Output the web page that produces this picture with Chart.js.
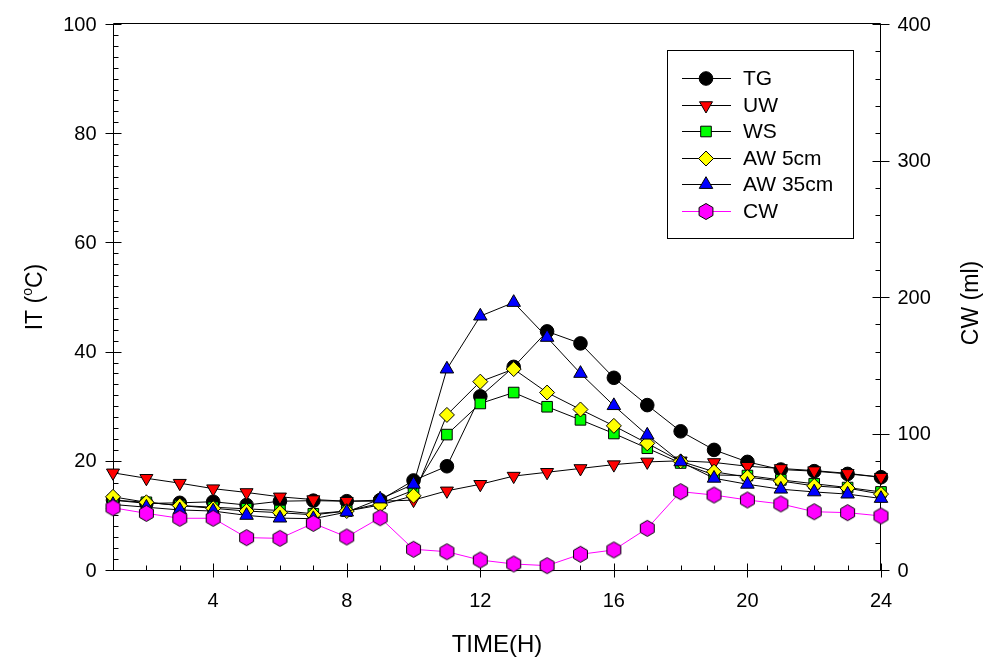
<!DOCTYPE html>
<html>
<head>
<meta charset="utf-8">
<script src="https://cdn.jsdelivr.net/npm/chart.js@4/dist/chart.umd.min.js"></script>
<style>
html,body{margin:0;padding:0;background:#fff;}
#wrap{width:989px;height:665px;position:relative;}
</style>
</head>
<body>
<div id="wrap"><canvas id="c" width="989" height="665"></canvas></div>
<script>
// ---------- data ----------
const hours = [1,2,3,4,5,6,7,8,9,10,11,12,13,14,15,16,17,18,19,20,21,22,23,24];
const xTickLabels = [4,8,12,16,20,24];
const leftTicks = [0,20,40,60,80,100];
const rightTicks = [0,100,200,300,400];

const TG   = [12.8,12.2,12.3,12.5,11.9,12.6,12.7,12.6,12.8,16.4,19.0,31.8,37.2,43.7,41.5,35.2,30.2,25.4,22.0,19.8,18.4,18.1,17.6,17.0];
const UW   = [17.8,16.8,15.9,14.9,14.2,13.4,12.9,12.6,12.6,12.8,14.5,15.7,17.2,17.9,18.6,19.3,19.8,20.0,19.7,19.0,18.6,18.2,17.7,17.0];
const WS   = [12.8,12.4,11.8,11.5,11.2,10.9,10.3,10.8,12.2,14.6,24.8,30.5,32.5,29.9,27.5,25.0,22.3,19.6,17.4,17.3,16.5,15.8,15.1,14.3];
const AW5  = [13.4,12.4,11.8,11.3,10.8,10.5,10.1,10.8,11.9,13.6,28.4,34.5,36.8,32.5,29.4,26.4,23.2,19.9,18.0,17.0,16.3,15.4,15.0,13.9];
const AW35 = [12.0,11.5,11.0,10.8,10.0,9.5,9.4,10.6,13.0,15.7,36.8,46.5,49.0,42.6,36.0,30.1,24.7,19.8,16.8,15.7,14.8,14.3,13.9,13.1];
const CW   = [45.6,41.5,37.9,37.9,23.7,23.2,34.2,24.2,38.3,15.2,13.4,7.3,4.4,3.2,11.5,14.7,30.5,57.4,54.9,51.3,48.4,42.7,42.0,39.6];

const seriesNames = ['TG','UW','WS','AW 5cm','AW 35cm','CW'];

// ---------- helpers ----------
const FONT = "'Liberation Sans', Arial, sans-serif";
function hexPath(g, x, y, r){
  g.beginPath();
  for(let i=0;i<6;i++){
    const a = Math.PI/180*(60*i-90);
    const px = x + r*Math.cos(a), py = y + r*Math.sin(a);
    if(i) g.lineTo(px,py); else g.moveTo(px,py);
  }
  g.closePath();
}
function hexCanvas(r){
  const s = 19;
  const c = document.createElement('canvas');
  c.width = s; c.height = s;
  const g = c.getContext('2d');
  hexPath(g, s/2, s/2, r);
  g.fillStyle = '#FF00FF'; g.fill();
  g.lineWidth = 1; g.strokeStyle = '#000'; g.stroke();
  return c;
}
const hexImg = hexCanvas(8);
const pts = arr => hours.map((h,i)=>({x:h, y:arr[i]}));

function mkSet(label, arr, style, color, radius, rot, order, lineColor, axis){
  return {
    label, data: pts(arr), yAxisID: axis || 'y',
    borderColor: lineColor || '#000', borderWidth: 1,
    pointStyle: style, pointRadius: radius, pointHoverRadius: radius,
    pointRotation: rot || 0,
    pointBackgroundColor: color, pointBorderColor: '#000', pointBorderWidth: 1,
    tension: 0, clip: false, order
  };
}

const datasets = [
  mkSet(seriesNames[0], TG,   'circle',   '#000000', 6.8, 0,   6),
  mkSet(seriesNames[1], UW,   'triangle', '#FF0000', 7.5, 180, 5),
  mkSet(seriesNames[2], WS,   'rect',     '#00FF00', 7.5, 0,   4),
  mkSet(seriesNames[3], AW5,  'rectRot',  '#FFFF00', 7.5, 0,   3),
  mkSet(seriesNames[4], AW35, 'triangle', '#0000FF', 7.8, 0,   2),
  mkSet(seriesNames[5], CW,   hexImg,     '#FF00FF', 8, 0,   1, '#FF00FF', 'y2')
];

// ---------- frame, ticks, titles, legend ----------
function drawMarker(g, kind, x, y, color){
  g.save();
  g.fillStyle = color; g.strokeStyle = '#000'; g.lineWidth = 1;
  g.beginPath();
  if(kind==='circle'){ g.arc(x,y,6.8,0,Math.PI*2); }
  else if(kind==='down'){ const r=7.5; g.moveTo(x-r*0.866,y-r*0.5); g.lineTo(x+r*0.866,y-r*0.5); g.lineTo(x,y+r); g.closePath(); }
  else if(kind==='up'){ const r=7.8; g.moveTo(x-r*0.866,y+r*0.5); g.lineTo(x+r*0.866,y+r*0.5); g.lineTo(x,y-r); g.closePath(); }
  else if(kind==='square'){ const s=5.3; g.rect(x-s,y-s,2*s,2*s); }
  else if(kind==='diamond'){ const r=7.5; g.moveTo(x,y-r); g.lineTo(x+r,y); g.lineTo(x,y+r); g.lineTo(x-r,y); g.closePath(); }
  else if(kind==='hex'){ hexPath(g,x,y,8); }
  g.fill(); g.stroke();
  g.restore();
}

const framePlugin = {
  id: 'frame',
  beforeDatasetsDraw(chart){
    const g = chart.ctx, a = chart.chartArea;
    const xs = chart.scales.x, yl = chart.scales.y, yr = chart.scales.y2;
    const L = Math.round(a.left)+0.5, R = Math.round(a.right)-0.5;
    const T = Math.round(a.top)-0.5, B = Math.round(a.bottom)+0.5;
    g.save();
    g.strokeStyle = '#000'; g.lineWidth = 1;
    g.beginPath();
    g.moveTo(L,T); g.lineTo(R,T); g.lineTo(R,B); g.lineTo(L,B); g.closePath();
    for(let v=0; v<=100; v+=2){
      const p = Math.round(yl.getPixelForValue(v))+0.5;
      if(v%20===0){ g.moveTo(L-8,p); g.lineTo(L+8,p); }
      else { g.moveTo(L,p); g.lineTo(L+5,p); }
    }
    for(let v=0; v<=400; v+=20){
      const p = Math.round(yr.getPixelForValue(v))+0.5;
      if(v%100===0){ g.moveTo(R-8,p); g.lineTo(R+9,p); }
      else { g.moveTo(R-5,p); g.lineTo(R,p); }
    }
    for(const h of hours){
      const p = Math.round(xs.getPixelForValue(h))+0.5;
      if(h%4===0){ g.moveTo(p,B-7); g.lineTo(p,B+7); }
      else { g.moveTo(p,B-5); g.lineTo(p,B); }
    }
    g.stroke();
    // y tick labels from the scales
    g.fillStyle = '#000'; g.font = '20px ' + FONT; g.textBaseline = 'middle';
    g.textAlign = 'right';
    for(const v of leftTicks) g.fillText(String(v), L - 17, yl.getPixelForValue(v) + 1);
    g.textAlign = 'left';
    for(const v of rightTicks) g.fillText(String(v), R + 17, yr.getPixelForValue(v) + 1);
    g.restore();
  },
  afterDraw(chart){
    const g = chart.ctx, a = chart.chartArea;
    g.save();
    g.fillStyle = '#000';
    g.save();
    g.translate(36, (a.top+a.bottom)/2);
    g.rotate(-Math.PI/2);
    const p1 = 'IT (', p3 = 'C)';
    g.font = '23px ' + FONT; const w1 = g.measureText(p1).width, w3 = g.measureText(p3).width;
    g.font = '14px ' + FONT; const w2 = g.measureText('o').width;
    let x = -(w1+w2+w3)/2;
    g.textBaseline = 'middle'; g.textAlign = 'left';
    g.font = '23px ' + FONT; g.fillText(p1, x, 0); x += w1;
    g.font = '14px ' + FONT; g.fillText('o', x, -8); x += w2;
    g.font = '23px ' + FONT; g.fillText(p3, x, 0);
    g.restore();
    g.save();
    g.translate(972, (a.top+a.bottom)/2 + 6);
    g.rotate(-Math.PI/2);
    g.font = '23px ' + FONT; g.textAlign = 'center'; g.textBaseline = 'middle';
    g.fillText('CW (ml)', 0, 0);
    g.restore();
    g.font = '24px ' + FONT; g.textAlign = 'center'; g.textBaseline = 'middle';
    g.fillText('TIME(H)', (a.left+a.right)/2, 645);
    const bx = 667.5, by = 50.5, bw = 186, bh = 188;
    g.strokeStyle = '#000'; g.lineWidth = 1;
    g.strokeRect(bx, by, bw, bh);
    const kinds = ['circle','down','square','diamond','up','hex'];
    const cols = ['#000000','#FF0000','#00FF00','#FFFF00','#0000FF','#FF00FF'];
    for(let i=0;i<6;i++){
      const y = Math.round(78 + i*26.6)+0.5;
      g.beginPath(); g.strokeStyle = i===5 ? '#FF00FF' : '#000';
      g.moveTo(682,y); g.lineTo(731,y); g.stroke();
      drawMarker(g, kinds[i], 706, y, cols[i]);
      g.fillStyle = '#000'; g.font = '21px ' + FONT; g.textAlign = 'left'; g.textBaseline = 'middle';
      g.fillText(seriesNames[i], 743, y+1);
    }
    g.restore();
  }
};

new Chart(document.getElementById('c'), {
  type: 'line',
  data: { datasets },
  options: {
    responsive: false, animation: false, devicePixelRatio: 1,
    layout: { padding: { top: 24, left: 0, right: 0, bottom: 0 } },
    plugins: { legend: { display: false }, tooltip: { enabled: false } },
    scales: {
      x: {
        type: 'linear', min: 1, max: 24,
        afterBuildTicks: s => { s.ticks = xTickLabels.map(v => ({ value: v })); },
        afterFit: s => { s.height = 95; },
        grid: { display: false, drawTicks: false },
        border: { display: false },
        ticks: { color: '#000', font: { family: FONT, size: 20 }, padding: 19, maxRotation: 0, autoSkip: false }
      },
      y: {
        position: 'left', min: 0, max: 100,
        afterBuildTicks: s => { s.ticks = leftTicks.map(v => ({ value: v })); },
        afterFit: s => { s.width = 113; },
        grid: { display: false, drawTicks: false },
        border: { display: false },
        ticks: { display: false }
      },
      y2: {
        position: 'right', min: 0, max: 400,
        afterBuildTicks: s => { s.ticks = rightTicks.map(v => ({ value: v })); },
        afterFit: s => { s.width = 108; },
        grid: { display: false, drawTicks: false },
        border: { display: false },
        ticks: { display: false }
      }
    }
  },
  plugins: [framePlugin]
});
</script>
</body>
</html>
